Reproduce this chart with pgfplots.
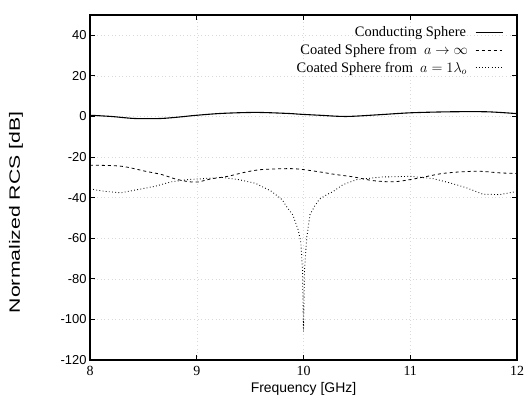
\documentclass[border=0pt]{standalone}
\usepackage{pgfplots}
\pgfplotsset{compat=1.18}
\usepackage{fontspec}
\setmainfont{Liberation Serif}
\setsansfont{Liberation Sans}
\begin{document}
\begin{tikzpicture}
\begin{axis}[
  name=ax,
  scale only axis,
  width=427bp, height=345bp,
  xmin=8, xmax=12, ymin=-120, ymax=50,
  xtick={8,9,10,11,12},
  ytick={-120,-100,-80,-60,-40,-20,0,20,40},
  tick align=inside,
  major tick length=5bp,
  axis line style={line width=1.1pt},
  tick style={line width=0.8pt, black},
  /pgf/number format/assume math mode=true,
  xticklabel style={font=\fontsize{14}{16}\selectfont, yshift=-3bp},
  yticklabel style={font=\sffamily\fontsize{13}{15}\selectfont},
  xlabel={Frequency [GHz]},
  ylabel={\scalebox{1.42}[1]{Normalized RCS [dB]}},
  xlabel style={font=\sffamily\fontsize{14}{16}\selectfont, at={(rel axis cs:0.5,0)}, anchor=center, yshift=-29bp},
  ylabel style={font=\sffamily\fontsize{15}{17}\selectfont, at={(rel axis cs:0,0.428)}, anchor=center, yshift=74bp},
  grid=major,
  grid style={gray!30, line width=0.4pt, dash pattern=on 0.6pt off 3pt},
  legend cell align=right,
  legend plot pos=right,
  legend style={at={(rel axis cs:0.968,0.972)}, anchor=north east, draw=none, fill=none,
    font=\fontsize{14.5}{16}\selectfont, inner sep=0pt, row sep=2bp},
  legend image code/.code={\draw[#1] (0bp,0bp) -- (27bp,0bp);},
]
\addplot[black, line width=1.1pt, smooth] coordinates {
 (8.0,0.6) (8.2,0.0) (8.42,-1.0) (8.66,-1.0) (8.85,-0.2) (8.98,0.5) (9.23,1.5)
 (9.55,2.0) (9.85,1.5) (9.97,1.1) (10.15,0.6) (10.4,0.0) (10.69,0.8) (11.0,1.8)
 (11.37,2.3) (11.72,2.3) (12.0,1.4)
};
\addlegendentry{Conducting Sphere\hspace*{7bp}}
\addplot[black, line width=0.8pt, dash pattern=on 3pt off 3pt, smooth] coordinates {
 (8.0,-24.0) (8.29,-24.5) (8.52,-27.0) (8.67,-28.6) (8.8,-30.8) (8.92,-32.1) (9.01,-32.3)
 (9.13,-30.8) (9.29,-29.5) (9.45,-27.5) (9.6,-26.2) (9.85,-25.7) (9.97,-26.0)
 (10.15,-27.3) (10.3,-28.6) (10.47,-29.8) (10.65,-31.6) (10.84,-32.2) (11.0,-31.1)
 (11.16,-29.5) (11.3,-28.1) (11.47,-27.3) (11.65,-27.0) (11.84,-27.8) (12.0,-28.1)
};
\addlegendentry{Coated Sphere from\ \ $a\rightarrow\infty$\hspace*{5bp}}
\addplot[black, line width=0.9pt, dash pattern=on 0.8pt off 2.4pt] coordinates {
 (8.0,-35.7) (8.14,-36.9) (8.29,-37.6) (8.45,-36.0) (8.61,-34.4) (8.76,-32.2) (8.92,-31.1)
 (9.13,-30.4) (9.23,-30.0) (9.39,-31.1) (9.55,-32.9) (9.7,-36.9) (9.8,-41.0) (9.85,-45.1)
 (9.9,-48.5) (9.95,-55.8) (9.975,-62) (9.99,-75) (10.0,-106) (10.01,-75) (10.03,-60)
 (10.06,-48.5) (10.1,-44.5) (10.15,-40.7) (10.22,-38.5) (10.28,-36.9) (10.37,-33.6) (10.5,-31.1)
 (10.74,-29.8) (11.0,-29.5) (11.21,-30.6) (11.37,-32.7) (11.53,-35.2) (11.68,-38.3)
 (11.84,-38.5) (12.0,-36.9)
};
\addlegendentry{Coated Sphere from\ \ $a=1\lambda_o$\hspace*{6bp}}
\end{axis}
\pgfresetboundingbox
\path[use as bounding box] ([xshift=-90bp,yshift=-40bp]ax.south west) rectangle ([xshift=9bp,yshift=15bp]ax.north east);
\end{tikzpicture}
\end{document}
